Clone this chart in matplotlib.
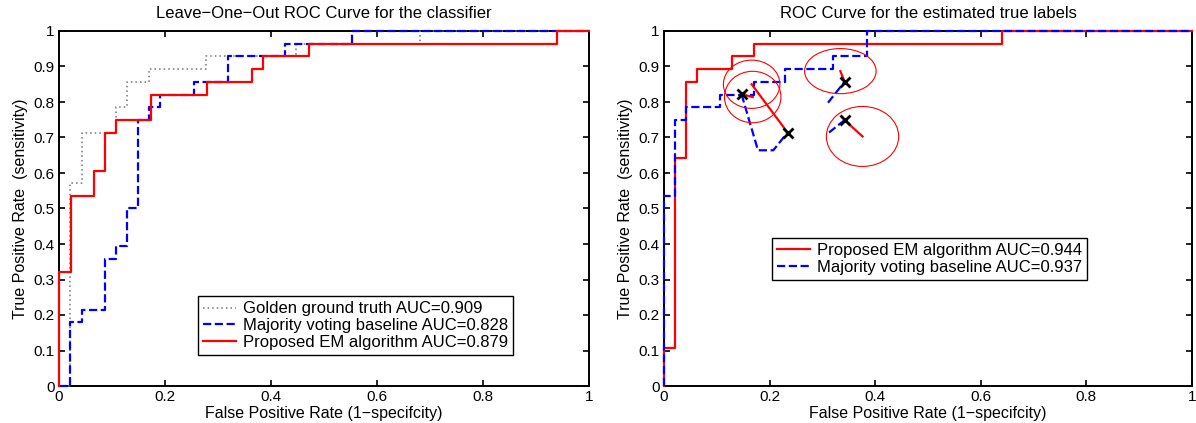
import matplotlib
matplotlib.use("Agg")
import matplotlib.pyplot as plt
from matplotlib.patches import Ellipse

plt.rcParams["font.family"] = ["Liberation Sans", "DejaVu Sans"]

# ---- data ------------------------------------------------------------------
# left panel: leave-one-out ROC
gold_fpr = [0, 0.0213, 0.0213, 0.0426, 0.0426, 0.1075, 0.1075, 0.128, 0.128,
            0.170, 0.170, 0.2766, 0.2766, 0.447, 0.447, 0.681, 0.681, 1]
gold_tpr = [0, 0, 0.571, 0.571, 0.714, 0.714, 0.786, 0.786, 0.857,
            0.857, 0.893, 0.893, 0.929, 0.929, 0.964, 0.964, 1, 1]
mv_fpr = [0, 0.0213, 0.0213, 0.0426, 0.0426, 0.087, 0.087, 0.1075, 0.1075,
          0.128, 0.128, 0.149, 0.149, 0.170, 0.170, 0.1915, 0.1915, 0.255,
          0.255, 0.319, 0.319, 0.4255, 0.4255, 0.553, 0.553, 1]
mv_tpr = [0, 0, 0.179, 0.179, 0.214, 0.214, 0.357, 0.357, 0.393,
          0.393, 0.5, 0.5, 0.75, 0.75, 0.786, 0.786, 0.821, 0.821,
          0.857, 0.857, 0.929, 0.929, 0.964, 0.964, 1, 1]
em_fpr = [0, 0, 0.0226, 0.0226, 0.066, 0.066, 0.087, 0.087, 0.1075, 0.1075,
          0.173, 0.173, 0.279, 0.279, 0.365, 0.365, 0.385, 0.385, 0.472,
          0.472, 0.939, 0.939, 1]
em_tpr = [0, 0.321, 0.321, 0.536, 0.536, 0.607, 0.607, 0.714, 0.714, 0.75,
          0.75, 0.821, 0.821, 0.857, 0.857, 0.893, 0.893, 0.929, 0.929,
          0.964, 0.964, 1, 1]

# right panel: ROC for the estimated true labels
em2_fpr = [0, 0, 0.021, 0.021, 0.0416, 0.0416, 0.063, 0.063, 0.128, 0.128,
           0.171, 0.171, 0.640, 0.640, 1]
em2_tpr = [0, 0.107, 0.107, 0.643, 0.643, 0.857, 0.857, 0.893, 0.893,
           0.929, 0.929, 0.964, 0.964, 1, 1]
mv2_fpr = [0, 0, 0.021, 0.021, 0.0416, 0.0416, 0.1064, 0.1064, 0.170, 0.170,
           0.229, 0.229, 0.320, 0.320, 0.385, 0.385, 1]
mv2_tpr = [0, 0.536, 0.536, 0.75, 0.75, 0.786, 0.786, 0.821, 0.821, 0.857,
           0.857, 0.893, 0.893, 0.929, 0.929, 1, 1]
# loose dashed pieces of the majority curve (None separates them)
mv2_frag_fpr = [0.147, 0.178, 0.207, 0.234, None, 0.3125, 0.342, None,
                0.3106, 0.342]
mv2_frag_tpr = [0.821, 0.664, 0.664, 0.714, None, 0.714, 0.749, None,
                0.798, 0.857]

# majority-vote operating points and their EM estimates (ellipse centres)
pt_fpr = [0.147, 0.234, 0.342, 0.342]
pt_tpr = [0.822, 0.714, 0.857, 0.749]
est_fpr = [0.168, 0.166, 0.334, 0.376]
est_tpr = [0.814, 0.850, 0.887, 0.703]
ell_w = [0.107, 0.107, 0.1355, 0.137]
ell_h = [0.145, 0.136, 0.127, 0.169]

RED, BLUE, GREY = "#FF0000", "#0000FF", "0.45"


def nan(v):
    return [float("nan") if a is None else a for a in v]


def style(ax, title):
    ax.set_xlim(0, 1)
    ax.set_ylim(0, 1)
    ax.set_xticks([0, 0.2, 0.4, 0.6, 0.8, 1])
    ax.set_xticklabels(["0", "0.2", "0.4", "0.6", "0.8", "1"])
    ax.set_yticks([i / 10 for i in range(11)])
    ax.set_yticklabels(["0"] + [f"0.{i}" for i in range(1, 10)] + ["1"])
    ax.tick_params(direction="in", top=True, right=True, length=4.5,
                   width=1.2, labelsize=11, pad=3)
    for s in ax.spines.values():
        s.set_linewidth(1.4)
    ax.set_title(title, fontsize=12, pad=9.5)
    ax.set_xlabel("False Positive Rate (1\u2212specifcity)", fontsize=11.5,
                  labelpad=1)
    ax.set_ylabel("True Positive Rate  (sensitivity)", fontsize=11.5,
                  labelpad=4)


def legend(ax, anchor):
    leg = ax.legend(loc="lower left", bbox_to_anchor=anchor,
                    fontsize=12, handlelength=2.0, handletextpad=0.4,
                    borderpad=0.3, labelspacing=0.1, borderaxespad=0,
                    fancybox=False, framealpha=1, edgecolor="k")
    leg.get_frame().set_linewidth(1.0)


fig = plt.figure(figsize=(11.96, 4.23), dpi=100)
ax1 = fig.add_axes([59 / 1196, 37 / 423, 530 / 1196, 355 / 423])
ax2 = fig.add_axes([664 / 1196, 37 / 423, 528 / 1196, 355 / 423])

kw = dict(clip_on=False, zorder=3)
ax1.plot(gold_fpr, gold_tpr, ls=(0, (1, 2)), color=GREY, lw=1.1,
         label="Golden ground truth AUC=0.909", **kw)
ax1.plot(mv_fpr, mv_tpr, "--", color=BLUE, lw=1.6,
         label="Majority voting baseline AUC=0.828", **kw)
ax1.plot(em_fpr, em_tpr, "-", color=RED, lw=1.6,
         label="Proposed EM algorithm AUC=0.879", **kw)
style(ax1, "Leave\u2212One\u2212Out ROC Curve for the classifier")
legend(ax1, (0.262, 0.088))

ax2.plot(em2_fpr, em2_tpr, "-", color=RED, lw=1.6,
         label="Proposed EM algorithm AUC=0.944", **kw)
ax2.plot(mv2_fpr, mv2_tpr, "--", color=BLUE, lw=1.6,
         label="Majority voting baseline AUC=0.937", **kw)
ax2.plot(nan(mv2_frag_fpr), nan(mv2_frag_tpr), "--", color=BLUE, lw=1.6,
         **kw)
for x0, y0, x1, y1, w, h in zip(pt_fpr, pt_tpr, est_fpr, est_tpr,
                                ell_w, ell_h):
    ax2.add_patch(Ellipse((x1, y1), w, h, fill=False, ec=RED, lw=0.8,
                          zorder=4))
    ax2.plot([x0, x1], [y0, y1], "-", color=RED, lw=1.6, zorder=5)
ax2.plot(pt_fpr, pt_tpr, "x", color="k", ms=7, mew=2, zorder=6)
style(ax2, "ROC Curve for the estimated true labels")
legend(ax2, (0.204, 0.299))

fig.savefig("out.png", dpi=100)
